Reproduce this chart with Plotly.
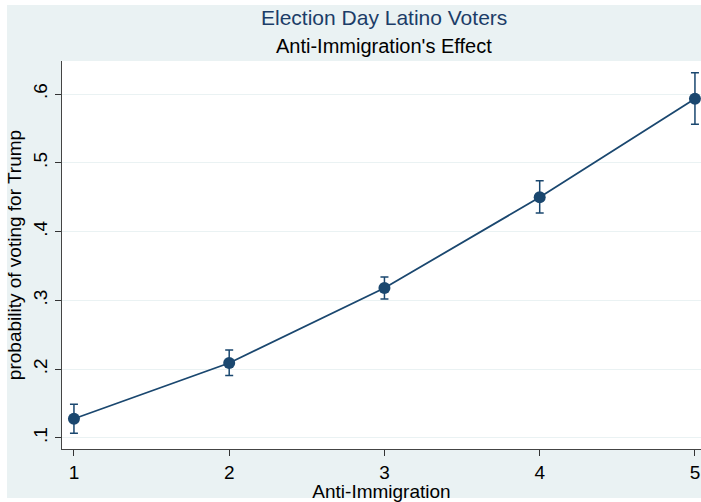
import plotly.graph_objects as go

anti_immigration = [1, 2, 3, 4, 5]
probability = [0.128, 0.209, 0.318, 0.450, 0.593]
ci_upper = [0.149, 0.228, 0.334, 0.474, 0.631]
ci_lower = [0.107, 0.191, 0.302, 0.427, 0.556]
y_tick_vals = [0.1, 0.2, 0.3, 0.4, 0.5, 0.6]
y_tick_text = [".1", ".2", ".3", ".4", ".5", ".6"]
x_tick_vals = [1, 2, 3, 4, 5]

navy = "#1A476F"
bg = "#EAF2F3"
font = "Liberation Sans, Arial, sans-serif"

err_plus = [u - p for u, p in zip(ci_upper, probability)]
err_minus = [p - l for p, l in zip(probability, ci_lower)]

fig = go.Figure()
fig.add_trace(go.Scatter(
    x=anti_immigration, y=probability, mode="lines+markers",
    line=dict(color=navy, width=1.8),
    marker=dict(color=navy, size=12),
    error_y=dict(type="data", symmetric=False, array=err_plus, arrayminus=err_minus,
                 color=navy, thickness=1.5, width=4),
    showlegend=False, cliponaxis=False,
))

W, H = 701, 502
ml, mr, mt, mb = 62, 0, 61, 53
pw, ph = W - ml - mr, H - mt - mb

def px_x(p):
    return (p - ml) / pw

def px_y(p):
    return (H - mb - p) / ph

# thin white border around the light background
for (x0, x1, y0, y1) in [(0, 7, 0, H), (0, W, 0, 5), (0, W, 498, H)]:
    fig.add_shape(type="rect", xref="paper", yref="paper",
                  x0=px_x(x0), x1=px_x(x1), y0=px_y(y1), y1=px_y(y0),
                  fillcolor="white", line_width=0, layer="below")

fig.add_annotation(text="Election Day Latino Voters", xref="paper", yref="paper",
                   x=px_x(384), y=px_y(18), xanchor="center", yanchor="middle",
                   showarrow=False, font=dict(size=21, color="#1C3D68", family=font))
fig.add_annotation(text="Anti-Immigration's Effect", xref="paper", yref="paper",
                   x=px_x(384), y=px_y(46), xanchor="center", yanchor="middle",
                   showarrow=False, font=dict(size=20, color="#000000", family=font))

fig.update_layout(
    width=W, height=H,
    margin=dict(l=ml, r=mr, t=mt, b=mb, autoexpand=False),
    paper_bgcolor=bg, plot_bgcolor="white",
    font=dict(family=font, color="#000000"),
    xaxis=dict(
        range=[0.923, 5.039], tickvals=x_tick_vals, ticks="outside", ticklen=6,
        tickcolor="#333333", showline=True, linecolor="#444444", linewidth=1,
        showgrid=False, zeroline=False, tickfont=dict(size=19), automargin=False,
        title=dict(text="Anti-Immigration", font=dict(size=19), standoff=0),
    ),
    yaxis=dict(
        range=[0.084, 0.648], tickvals=y_tick_vals, ticktext=y_tick_text,
        ticks="outside", ticklen=6, tickcolor="#333333", tickangle=-90,
        showline=True, linecolor="#444444", linewidth=1,
        showgrid=True, gridcolor=bg, gridwidth=1, zeroline=False,
        tickfont=dict(size=19), automargin=False,
        title=dict(text="probability of voting for Trump", font=dict(size=19), standoff=3),
    ),
)

fig.write_html("out.html", config={"displayModeBar": False},
               post_script="document.body.style.margin='0px';")
